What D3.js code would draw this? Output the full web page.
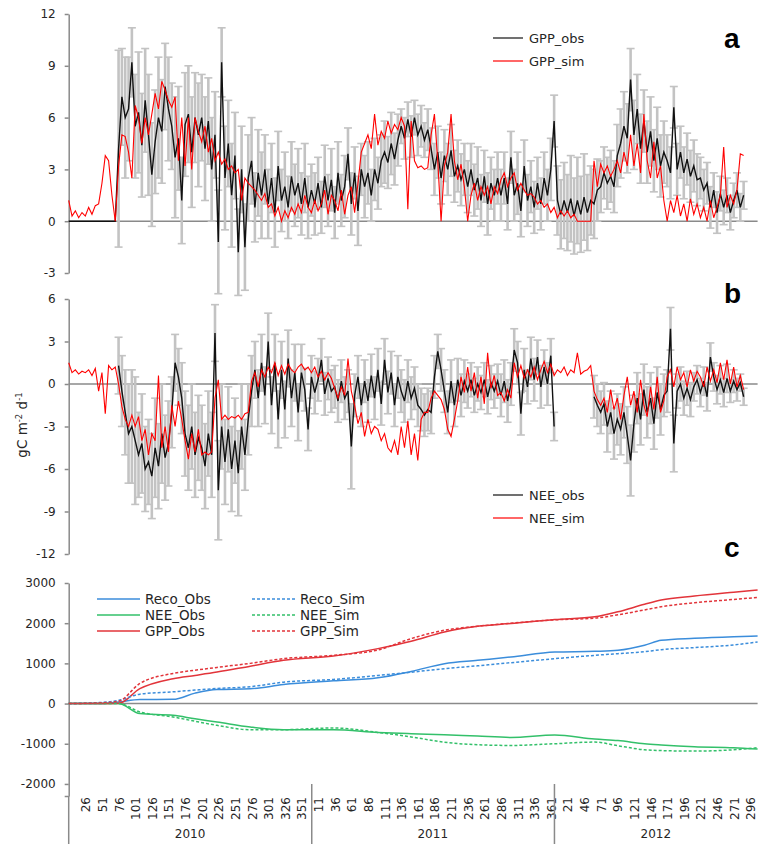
<!DOCTYPE html>
<html>
<head>
<meta charset="utf-8">
<script src="https://cdn.jsdelivr.net/npm/d3@7"></script>
<style>
  body { margin: 0; background: #fff; }
  svg { display: block; font-family: "DejaVu Sans", sans-serif; }
</style>
</head>
<body>
<svg id="chart" width="758" height="844"></svg>
<script>
// daily series sampled every 5 days, counted from 1 Jan 2010 (day 0)
var step = 5;

// panel a: GPP (gC m-2 d-1)
var gppObs = [
  0,0,0,0,0,0,0,0,0,0,
  0,0,0,0,0,4.2,7.2,6.0,6.5,9.2,
  5.5,6.3,4.4,7.0,5.0,2.7,4.6,6.0,5.2,7.8,
  6.5,5.5,3.7,4.8,1.2,5.6,6.2,4.0,6.0,5.0,
  6.0,4.2,5.8,3.0,5.0,-1.2,9.2,2.5,4.5,1.5,
  3.8,-1.8,3.0,-1.5,2.5,3.5,0.8,2.8,1.5,3.0,
  1.0,2.5,0.5,3.2,1.2,2.0,0.8,2.6,1.5,2.2,
  1.0,2.5,0.8,1.8,1.0,2.2,0.8,2.6,1.2,2.4,
  0.5,2.8,1.2,2.0,3.9,1.0,2.8,0.6,3.0,2.0,
  2.8,1.5,3.0,2.2,3.5,4.0,3.4,4.5,3.6,4.7,
  5.5,4.8,5.9,4.9,6.0,5.0,5.5,4.7,5.3,4.2,
  3.0,4.0,2.5,3.8,3.0,4.1,2.6,3.2,2.4,3.0,
  2.0,3.0,1.8,2.5,1.2,2.6,1.0,2.2,1.5,2.5,
  1.5,2.5,1.0,3.7,1.5,2.2,0.6,3.2,1.2,2.0,
  0.8,2.2,1.0,2.5,1.5,3.0,5.8,1.2,0.4,1.2,
  0.5,1.3,0.3,1.2,0.4,1.4,0.5,1.2,1.0,1.8,
  2.0,2.8,2.2,2.6,2.0,3.8,4.5,5.5,4.8,8.2,
  5.0,6.5,4.2,5.8,4.0,5.2,3.5,4.8,3.2,4.0,
  3.5,2.8,6.6,3.0,4.0,2.8,3.6,2.6,3.2,2.4,
  2.5,1.8,2.2,0.8,1.8,0.5,1.6,0.8,1.5,0.5,
  1.2,1.8,0.8,1.5
];
var gppSim = [
  1.2,0.3,0.6,0.2,0.5,0.3,0.8,0.4,0.9,1.0,
  2.2,3.8,3.5,1.5,0.0,3.2,5.0,4.9,4.0,2.5,
  6.7,6.0,4.5,6.0,5.0,6.2,7.4,6.5,8.1,7.6,
  7.0,6.6,7.2,3.5,6.0,3.2,6.0,3.0,6.0,5.2,
  4.6,5.5,4.0,4.8,3.5,4.0,3.3,3.6,3.0,3.2,
  2.8,3.0,1.2,2.5,2.2,2.0,1.8,1.5,1.2,1.6,
  0.8,1.0,0.3,0.8,0.0,0.6,0.2,0.8,0.4,1.0,
  0.5,1.5,0.8,0.5,1.2,0.6,1.0,1.8,0.4,1.5,
  1.2,0.6,1.8,0.4,1.5,2.0,0.5,2.2,4.0,4.5,
  5.0,4.2,6.2,4.4,5.2,4.8,5.8,5.1,5.6,5.3,
  6.0,5.5,0.7,5.8,3.5,3.1,3.2,3.0,3.1,5.0,
  6.2,3.5,0.0,3.2,4.0,6.2,3.5,2.4,3.3,2.0,
  0.0,1.5,2.2,1.2,2.0,1.5,2.0,1.0,2.0,1.6,
  2.4,2.8,2.0,2.5,2.8,1.8,2.2,1.8,1.5,1.6,
  1.4,1.0,1.2,0.8,1.0,0.5,0.8,0.2,0.6,0.3,
  0.6,0.2,0.4,0.0,0.0,0.0,0.0,0.0,3.5,2.0,
  3.3,2.8,3.2,2.6,3.0,3.5,2.8,4.0,3.2,5.0,
  3.2,4.5,2.8,6.2,3.5,2.5,4.6,2.5,3.2,1.2,
  0.0,1.2,0.5,1.5,0.3,1.0,0.0,1.3,0.4,1.0,
  0.2,0.8,0.0,1.2,0.2,0.8,1.5,4.3,0.8,1.5,
  1.0,1.8,3.9,3.8
];
var gppErr = [
  null,null,null,null,null,null,null,null,null,null,
  null,null,null,null,null,5.7,2.8,3.5,3.0,2.0,
  3.0,3.5,3.0,3.0,3.5,3.0,3.0,3.5,3.0,2.5,
  3.0,2.5,3.5,3.0,2.5,3.0,2.8,3.2,2.6,3.0,
  2.5,3.0,2.5,3.0,2.5,3.0,2.0,3.0,2.5,3.0,
  2.5,2.5,2.5,2.5,2.5,2.5,2.0,2.5,2.5,2.0,
  2.0,2.0,2.0,2.0,1.8,2.0,1.8,2.0,1.8,2.0,
  1.8,2.0,1.8,1.5,1.8,1.5,1.5,1.8,1.5,1.8,
  1.5,1.8,1.5,1.8,1.5,1.8,1.5,2.0,1.5,1.8,
  1.8,1.5,1.8,1.5,1.5,1.8,1.5,1.8,1.5,1.5,
  1.0,1.2,1.0,1.2,1.0,1.2,1.2,1.0,1.2,1.2,
  1.5,1.5,1.5,1.5,1.5,1.5,1.5,1.5,1.5,1.5,
  1.5,1.5,1.5,1.8,1.5,1.5,1.8,1.5,1.5,1.5,
  1.5,1.5,1.5,1.5,1.5,1.8,1.5,1.5,1.5,1.5,
  1.5,1.5,1.5,1.5,1.5,1.8,1.5,2.0,2.0,2.2,
  2.2,2.5,2.2,2.5,2.2,2.5,2.2,2.0,2.0,1.8,
  1.5,1.5,1.5,1.5,1.5,1.8,2.0,2.0,2.0,1.8,
  2.0,2.0,2.0,1.8,1.8,2.0,1.8,1.8,1.8,1.8,
  1.5,1.5,1.2,1.5,1.5,1.5,1.5,1.5,1.5,1.5,
  1.2,1.2,1.2,1.2,1.0,1.2,1.0,1.0,1.0,1.0,
  1.0,1.0,0.8,0.8
];

// panel b: NEE (gC m-2 d-1)
var neeObs = [
  null,null,null,null,null,null,null,null,null,null,
  null,null,null,null,null,1.3,-0.5,-2.0,-3.5,-3.0,
  -4.0,-5.0,-4.2,-6.0,-5.5,-6.5,-4.5,-5.8,-3.5,-5.2,
  -4.2,-2.0,1.5,0.5,-1.0,-3.5,-4.5,-3.0,-5.0,-3.8,
  -4.5,-5.8,-3.5,-5.0,3.6,-7.5,-3.0,-5.5,-3.2,-6.0,
  -4.0,-6.3,-3.0,-5.0,-2.5,-0.5,1.0,-1.0,1.5,-0.8,
  3.0,-1.5,1.5,-2.5,1.0,-1.8,1.8,-1.0,0.8,-2.0,
  0.8,-0.4,-3.2,0.5,-0.6,0.3,1.7,-0.7,0.4,-0.5,
  -0.2,-1.2,0.2,-1.0,-0.5,-4.4,-0.8,0.5,-1.5,0.2,
  -1.2,0.6,-1.0,1.0,-1.4,1.7,-0.6,0.8,-1.5,0.5,
  -0.5,-1.2,0.2,-1.0,-0.3,-1.5,-1.8,-2.2,-1.8,-2.0,
  0.5,2.3,1.0,-0.5,-2.0,0.2,-1.5,0.3,-0.8,0.2,
  -0.5,0.3,-0.8,0.0,-0.6,0.3,-0.9,0.1,-0.5,0.2,
  -0.8,0.2,-1.2,0.0,2.4,1.5,-2.1,1.0,-0.2,1.8,
  0.3,1.9,-0.2,1.2,0.0,2.0,-3.0,null,null,null,
  null,null,null,null,null,null,null,null,-0.9,-1.5,
  -2.0,-1.4,-3.0,-2.0,-3.5,-2.5,-3.2,-2.0,-3.6,-5.4,
  -2.8,-1.0,-2.5,-0.4,-2.0,-1.0,-2.8,-0.6,-1.8,-0.8,
  -0.5,3.9,-4.2,-0.5,0.0,-1.0,-0.3,-1.1,-0.2,0.3,
  -0.6,0.2,-0.9,1.9,0.5,-0.4,0.3,-0.6,0.4,-0.5,
  0.2,-0.4,0.1,-0.9
];
var neeSim = [
  1.5,0.8,1.0,0.7,0.9,0.8,1.0,0.6,1.1,-0.5,
  0.8,-2.1,1.3,1.0,1.2,0.0,-1.6,-2.5,-3.0,-2.2,
  -3.0,-2.3,-4.0,-3.2,-5.0,-3.5,-4.0,0.6,-4.5,-3.0,
  -4.8,-1.5,-3.0,-1.2,-2.5,-4.0,-5.3,-3.5,-4.8,-3.2,
  -5.0,-4.8,-5.0,-4.8,-1.0,0.3,-2.5,-2.2,-2.5,-2.3,
  -2.4,-2.2,-2.5,-2.1,-2.0,0.2,0.8,-0.2,1.0,0.5,
  1.2,0.8,1.5,0.6,1.3,0.7,1.4,1.0,0.8,1.2,
  1.4,1.0,1.2,0.8,1.2,0.5,0.9,0.3,0.8,0.4,
  -0.3,-1.0,-0.2,-0.8,1.8,-0.5,-1.5,-2.8,-2.0,-3.7,
  -2.5,-3.5,-3.0,-3.2,-4.0,-3.5,-4.5,-4.8,-4.0,-5.0,
  -3.0,-4.5,-2.6,-5.0,-3.5,-5.4,-2.5,-2.0,-2.0,-1.0,
  -0.5,-0.8,-1.1,-1.8,-3.2,-3.7,-2.5,-1.2,0.5,-0.6,
  1.2,-0.5,0.8,-1.0,0.5,-1.4,2.2,-0.3,0.6,-0.8,
  -0.6,-1.2,-0.4,-1.0,1.5,0.5,1.3,0.4,1.0,0.5,
  1.2,0.3,1.0,1.6,0.8,1.4,0.6,1.0,0.8,1.2,
  0.6,1.0,0.8,2.2,0.7,0.9,1.0,1.3,-0.5,-1.1,
  -1.5,-1.0,-2.0,-0.4,-1.8,-1.0,-2.5,-0.8,0.5,-1.5,
  -0.5,-2.0,0.3,-1.5,-2.3,-0.2,-1.8,0.5,-2.0,-1.2,
  0.5,1.0,-0.2,1.2,0.3,0.8,-0.2,1.0,0.2,0.9,
  0.5,-0.2,1.2,0.2,1.0,0.1,1.5,0.3,1.7,0.0,
  1.2,-0.2,0.6,-0.4
];
var neeErr = [
  null,null,null,null,null,null,null,null,null,null,
  null,null,null,null,null,2.0,2.5,3.0,3.5,4.0,
  4.5,3.0,3.5,3.0,3.0,3.0,3.5,3.0,3.5,3.0,
  3.0,2.5,2.0,2.0,2.5,3.0,3.0,3.0,3.0,3.0,
  3.0,3.0,3.0,3.0,2.0,3.5,3.0,3.0,3.0,3.0,
  3.0,3.0,3.0,2.5,2.5,2.5,2.0,2.0,2.0,2.0,
  2.0,2.0,2.0,2.0,2.0,2.0,2.0,2.0,2.0,2.0,
  2.0,1.5,1.5,1.5,1.5,1.5,1.5,1.5,1.5,1.5,
  1.5,1.5,1.5,1.5,1.5,3.0,1.5,1.5,1.5,1.5,
  1.5,1.5,1.5,1.5,1.5,1.5,1.5,1.5,1.5,1.5,
  1.5,1.5,1.5,1.5,1.5,1.5,1.5,1.5,1.5,1.5,
  1.5,1.2,1.5,1.5,1.5,1.5,1.5,1.5,1.5,1.5,
  1.2,1.2,1.2,1.2,1.2,1.2,1.2,1.2,1.2,1.2,
  1.5,1.5,1.5,1.5,1.5,1.5,1.5,1.5,1.2,1.5,
  1.5,1.2,1.5,1.2,1.5,1.2,1.0,null,null,null,
  null,null,null,null,null,null,null,null,1.5,1.5,
  1.5,1.5,1.8,1.5,1.8,1.8,1.8,1.8,2.0,2.5,
  2.0,1.8,1.8,1.8,1.8,1.8,1.8,1.8,1.8,1.5,
  1.5,1.5,2.0,1.2,1.2,1.2,1.2,1.2,1.0,1.0,
  1.0,1.0,1.0,1.0,1.0,1.0,1.0,1.0,1.0,0.8,
  0.8,0.8,0.6,0.6
];

// panel c: cumulative sums (gC m-2), read at these days
var cumDays    = [0, 50, 75, 107, 157, 190, 223, 273, 323, 398, 465, 515, 565, 615, 665, 731, 791, 826, 866, 891, 941, 1000, 1036];
var recoCumObs = [0, 0, 40, 100, 105, 260, 350, 367, 475, 567, 642, 800, 992, 1075, 1158, 1283, 1300, 1325, 1450, 1575, 1625, 1665, 1683];
var recoCumSim = [0, 30, 80, 233, 292, 335, 375, 420, 533, 600, 700, 780, 867, 940, 1017, 1117, 1200, 1242, 1290, 1342, 1392, 1460, 1533];
var neeCumObs  = [0, 0, 0, -250, -292, -380, -458, -583, -650, -650, -717, -750, -775, -810, -842, -783, -883, -920, -1000, -1030, -1075, -1100, -1133];
var neeCumSim  = [0, 0, 0, -208, -333, -440, -542, -650, -650, -608, -717, -830, -960, -1025, -1042, -1000, -958, -1050, -1150, -1170, -1183, -1150, -1100];
var gppCumObs  = [0, 0, 5, 370, 620, 700, 783, 930, 1075, 1183, 1367, 1550, 1783, 1925, 1992, 2092, 2158, 2283, 2470, 2575, 2675, 2770, 2825];
var gppCumSim  = [0, 20, 60, 500, 750, 830, 900, 1000, 1117, 1200, 1333, 1617, 1825, 1925, 2000, 2083, 2125, 2208, 2330, 2408, 2508, 2590, 2642];

// category axis
var years = ["2010", "2011", "2012"];
var yearStart = [0, 365, 730];
var yearEnd = [365, 730, 1036];
var dayTicks = [
  [26, 51, 76, 101, 126, 151, 176, 201, 226, 251, 276, 301, 326, 351],
  [11, 36, 61, 86, 111, 136, 161, 186, 211, 236, 261, 286, 311, 336, 361],
  [21, 46, 71, 96, 121, 146, 171, 196, 221, 246, 271, 296]
];

var svg = d3.select("#chart");
var axisColor = "#8a8a8a";
var textColor = "#262626";
var right = 757.6;

var x = d3.scaleLinear().domain([0, 1036]).range([68.7, right]);

function series(vals) {
  return vals.map(function(v, i) { return {day: i * step, v: v}; });
}

function yAxis(y, ticks, labelled) {
  var ax = d3.axisLeft(y)
    .tickValues(ticks)
    .tickSize(4)
    .tickSizeOuter(0)
    .tickPadding(9)
    .tickFormat(function(d) { return labelled(d) ? d : ""; });
  var g = svg.append("g").attr("transform", "translate(" + x(0) + ",0)").call(ax);
  g.select(".domain").attr("stroke", axisColor).attr("stroke-width", 1.5);
  g.selectAll(".tick line").attr("stroke", axisColor).attr("stroke-width", 1.5);
  g.selectAll(".tick text").attr("fill", textColor).style("font-size", "12px")
    .style("font-family", '"DejaVu Sans", sans-serif');
  return g;
}

// panels a and b: daily obs with error bars and simulated line
function dailyPanel(obsVals, simVals, errVals, domain, range, ticks) {
  var y = d3.scaleLinear().domain(domain).range(range);
  yAxis(y, ticks, function() { return true; });

  svg.append("line")
    .attr("x1", x(0)).attr("x2", right)
    .attr("y1", y(0)).attr("y2", y(0))
    .attr("stroke", axisColor).attr("stroke-width", 1.5);

  var obs = series(obsVals);
  var bars = obs.filter(function(d, i) { return d.v != null && errVals[i] != null; })
    .map(function(d) { var e = errVals[d.day / step]; return {day: d.day, lo: d.v - e, hi: d.v + e}; });

  // bars are wide enough to merge into the dense grey band of the daily original
  var eb = svg.append("g").attr("stroke", "#c3c3c3");
  eb.selectAll("line.bar").data(bars).enter().append("line").attr("class", "bar")
    .attr("stroke-width", 2.6)
    .attr("x1", function(d) { return x(d.day); }).attr("x2", function(d) { return x(d.day); })
    .attr("y1", function(d) { return y(d.lo); }).attr("y2", function(d) { return y(d.hi); });
  ["lo", "hi"].forEach(function(k) {
    eb.selectAll("line.cap" + k).data(bars).enter().append("line").attr("class", "cap" + k)
      .attr("stroke-width", 1.6)
      .attr("x1", function(d) { return x(d.day) - 4; }).attr("x2", function(d) { return x(d.day) + 4; })
      .attr("y1", function(d) { return y(d[k]); }).attr("y2", function(d) { return y(d[k]); });
  });

  var line = d3.line()
    .defined(function(d) { return d.v != null; })
    .x(function(d) { return x(d.day); })
    .y(function(d) { return y(d.v); });

  svg.append("path").datum(obs).attr("d", line)
    .attr("fill", "none").attr("stroke", "#111").attr("stroke-width", 1.4);
  svg.append("path").datum(series(simVals)).attr("d", line)
    .attr("fill", "none").attr("stroke", "#ff0000").attr("stroke-width", 1.1);
}

dailyPanel(gppObs, gppSim, gppErr, [-3, 12], [273, 14], [-3, 0, 3, 6, 9, 12]);
dailyPanel(neeObs, neeSim, neeErr, [-12, 6], [554, 299], [-12, -9, -6, -3, 0, 3, 6]);

// panel c
var yc = d3.scaleLinear().domain([-2300, 3000]).range([796, 583]);
yAxis(yc, [-2300, -2000, -1000, 0, 1000, 2000, 3000], function(d) { return d !== -2300; });

svg.append("line")
  .attr("x1", x(0)).attr("x2", right)
  .attr("y1", yc(0)).attr("y2", yc(0))
  .attr("stroke", axisColor).attr("stroke-width", 1.5);

var cumSeries = [
  {name: "Reco_Obs", vals: recoCumObs, color: "#3b8ddb", dash: null},
  {name: "NEE_Obs", vals: neeCumObs, color: "#33c06a", dash: null},
  {name: "GPP_Obs", vals: gppCumObs, color: "#e2343a", dash: null},
  {name: "Reco_Sim", vals: recoCumSim, color: "#3b8ddb", dash: "3,2"},
  {name: "NEE_Sim", vals: neeCumSim, color: "#33c06a", dash: "3,2"},
  {name: "GPP_Sim", vals: gppCumSim, color: "#e2343a", dash: "3,2"}
];

var cumLine = d3.line()
  .curve(d3.curveMonotoneX)
  .x(function(d) { return x(d[0]); })
  .y(function(d) { return yc(d[1]); });

cumSeries.forEach(function(s) {
  svg.append("path")
    .datum(cumDays.map(function(d, i) { return [d, s.vals[i]]; }))
    .attr("d", cumLine)
    .attr("fill", "none")
    .attr("stroke", s.color)
    .attr("stroke-width", 1.5)
    .attr("stroke-dasharray", s.dash);
});

// legend c: obs in the first column, sim in the second
var legC = svg.append("g").style("font-size", "13.5px").attr("fill", textColor);
cumSeries.forEach(function(s, i) {
  var col = i < 3 ? 0 : 1, row = i % 3;
  var lx = col === 0 ? 97 : 252, ly = 599 + row * 16;
  legC.append("line").attr("x1", lx).attr("x2", lx + 43).attr("y1", ly).attr("y2", ly)
    .attr("stroke", s.color).attr("stroke-width", 1.5).attr("stroke-dasharray", s.dash);
  legC.append("text").attr("x", lx + 48).attr("y", ly).attr("dy", "0.36em").text(s.name);
});

// legends a and b
function pairLegend(y0, names) {
  var g = svg.append("g").style("font-size", "13px").attr("fill", textColor);
  [["#111", names[0]], ["#ff0000", names[1]]].forEach(function(p, i) {
    var ly = y0 + i * 23;
    g.append("line").attr("x1", 493).attr("x2", 523).attr("y1", ly).attr("y2", ly)
      .attr("stroke", p[0]).attr("stroke-width", 1.2);
    g.append("text").attr("x", 529).attr("y", ly).attr("dy", "0.36em").text(p[1]);
  });
}
pairLegend(38, ["GPP_obs", "GPP_sim"]);
pairLegend(495, ["NEE_obs", "NEE_sim"]);

// panel letters
[["a", 48], ["b", 303], ["c", 557]].forEach(function(p) {
  svg.append("text").attr("x", 724).attr("y", p[1]).text(p[0])
    .style("font-family", '"Liberation Sans", Arial, sans-serif')
    .style("font-weight", "bold").style("font-size", "28px").attr("fill", "#000");
});

// y title
var yt = svg.append("text")
  .attr("transform", "translate(27,425) rotate(-90)")
  .attr("text-anchor", "middle")
  .attr("fill", textColor)
  .style("font-size", "13.5px");
yt.append("tspan").text("gC m");
yt.append("tspan").attr("dy", -5).style("font-size", "8.5px").text("-2");
yt.append("tspan").attr("dy", 5).text(" d");
yt.append("tspan").attr("dy", -5).style("font-size", "8.5px").text("-1");

// category axis: day labels, year separators, year labels
var cat = svg.append("g").attr("fill", textColor).style("font-size", "12px");
years.forEach(function(yr, k) {
  dayTicks[k].forEach(function(d) {
    var xi = x(yearStart[k] + d);
    cat.append("text")
      .attr("transform", "translate(" + xi + ",797) rotate(-90)")
      .attr("text-anchor", "end").attr("dy", "0.36em").text(d);
  });
  cat.append("text")
    .attr("x", x((yearStart[k] + yearEnd[k]) / 2)).attr("y", 838)
    .attr("text-anchor", "middle").text(yr);
  if (k > 0) {
    svg.append("line")
      .attr("x1", x(yearStart[k] + 0.5)).attr("x2", x(yearStart[k] + 0.5))
      .attr("y1", 784).attr("y2", 844)
      .attr("stroke", axisColor).attr("stroke-width", 1.5);
  }
});
svg.append("line")
  .attr("x1", x(0)).attr("x2", x(0)).attr("y1", yc(-2300)).attr("y2", 844)
  .attr("stroke", axisColor).attr("stroke-width", 1.5);
</script>
</body>
</html>
